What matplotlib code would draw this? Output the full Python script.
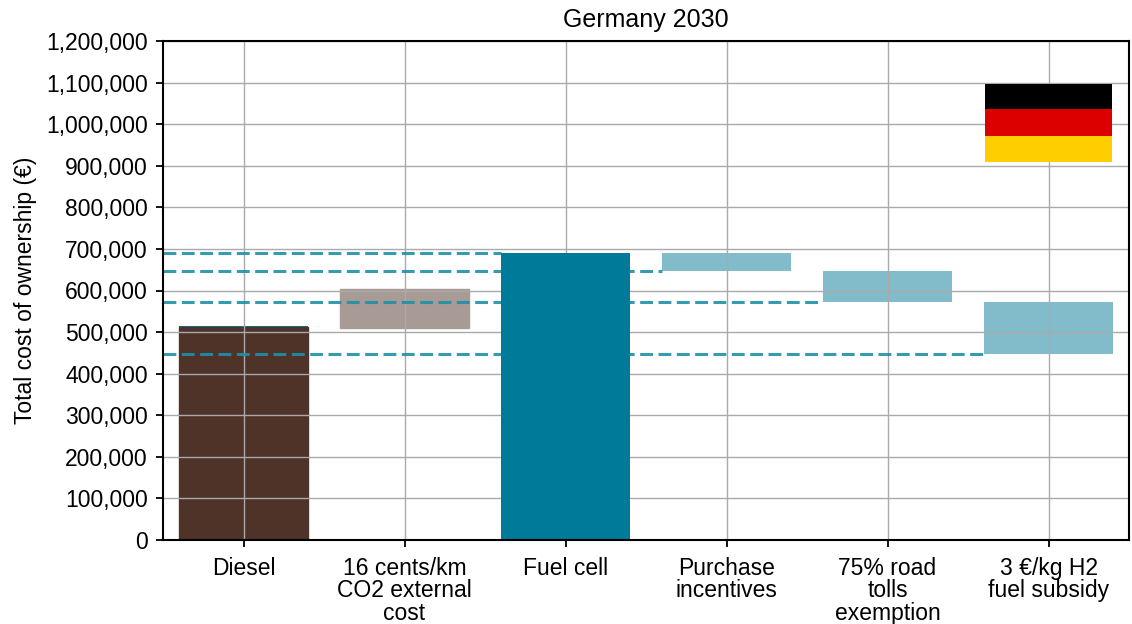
import matplotlib
matplotlib.use("Agg")
import matplotlib.pyplot as plt

# data
categories = ["Diesel", "16 cents/km\nCO2 external\ncost", "Fuel cell", "Purchase\nincentives",
              "75% road\ntolls\nexemption", "3 €/kg H2\nfuel subsidy"]
bar_bottoms = [0, 510000, 0, 647000, 572000, 448000]
bar_tops = [513000, 604000, 691000, 690000, 647000, 572000]
bar_colors = ["#4f3228", "#a89a94", "#007a99", "#82bccb", "#82bccb", "#82bccb"]
bar_edges = [1.0, 1.0, 0, 0, 0, 0]
bar_zorder = [2, 2, 5, 2, 2, 2]

# thin teal sliver showing above the diesel bar
diesel_under = 515000

# dashed connector levels and the bar index each one stops at
dash_levels = [690000, 646000, 572000, 448000]
dash_ends = [2, 3, 4, 5]

yticks = list(range(0, 1200001, 100000))

plt.rcParams["font.family"] = ["Liberation Sans", "DejaVu Sans"]

fig = plt.figure(figsize=(11.32, 6.24), dpi=100)
ax = fig.add_axes([163 / 1132, 1 - 540 / 624, (1129 - 163) / 1132, (540 - 41) / 624])

x = list(range(len(categories)))
ax.bar(x[0], diesel_under, width=0.8, color="#007a99", zorder=1)
for i in x:
    ax.bar(i, bar_tops[i] - bar_bottoms[i], bottom=bar_bottoms[i], width=0.8, color=bar_colors[i],
           edgecolor=bar_colors[i], linewidth=bar_edges[i], zorder=bar_zorder[i])

ax.set_xlim(-0.5, 5.5)
ax.set_ylim(0, 1200000)
ax.set_yticks(yticks)
ax.set_yticklabels([f"{v:,}" for v in yticks])
ax.set_xticks(x)
ax.set_xticklabels(categories, linespacing=0.98)
ax.tick_params(axis="y", labelsize=16.5, length=5, width=1.3, pad=6)
ax.tick_params(axis="x", labelsize=16.5, length=5, width=1.3, pad=7)
ax.grid(True, color="#aaaaaa", linewidth=1.0, zorder=6)
ax.set_axisbelow(False)
for s in ax.spines.values():
    s.set_linewidth(1.5)
    s.set_zorder(10)
ax.set_ylabel("Total cost of ownership (€)", fontsize=16.5)
ax.yaxis.set_label_coords(-0.13, 0.5)
ax.set_title("Germany 2030", fontsize=18, pad=10)

# dashed connectors
for level, end in zip(dash_levels, dash_ends):
    ax.plot([-0.5, end - 0.4], [level, level], color="#2090a8", alpha=0.9, linestyle=(0, (4.2, 1.8)),
            linewidth=2.2, zorder=4)

# flag
flag_colors = ["#000000", "#dd0000", "#ffce00"]
flag_tops = [1097000, 1037000, 971000]
flag_bottoms = [1037000, 971000, 909000]
for c, t, b in zip(flag_colors, flag_tops, flag_bottoms):
    ax.bar(5, t - b, bottom=b, width=0.783, color=c, zorder=7)

fig.savefig("out.png", dpi=100)
